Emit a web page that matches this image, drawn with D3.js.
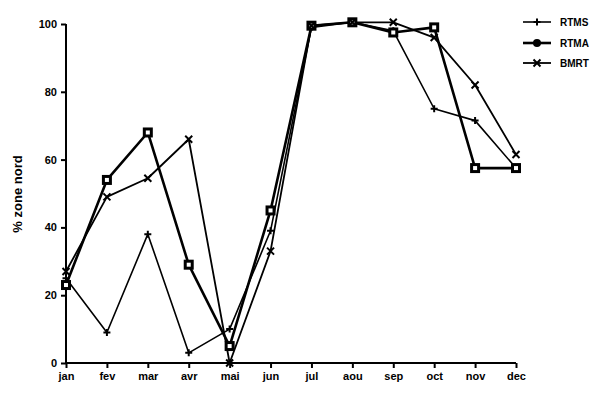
<!DOCTYPE html>
<html><head><meta charset="utf-8">
<script src="https://cdn.jsdelivr.net/npm/d3@7"></script>
<style>body{margin:0;background:#fff}text{font-family:"Liberation Sans",Arial,sans-serif;font-weight:bold;fill:#000}</style>
</head><body><svg id="c" width="600" height="403"></svg>
<script>
const months = ["jan","fev","mar","avr","mai","jun","jul","aou","sep","oct","nov","dec"];
const yTicks = [0,20,40,60,80,100];
const rtms = [25,9,38,3,10,39,99,100.5,98,75,71.5,57.5];
const rtma = [23,54,68,29,5,45,99.5,100.5,97.5,99,57.5,57.5];
const bmrt = [27,49,54.5,66,0,33,99.5,100.5,100.5,96,82,61.5];
const seriesNames = ["RTMS","RTMA","BMRT"];

const svg = d3.select("#c");
const x = d3.scalePoint().domain(months).range([66,516]);
const y = d3.scaleLinear().domain([0,100]).range([363,24]);

const ax = svg.append("g").attr("transform","translate(0,363)")
  .call(d3.axisBottom(x).tickSize(5).tickPadding(4));
const ay = svg.append("g").attr("transform","translate(66,0)")
  .call(d3.axisLeft(y).tickValues(yTicks).tickSize(5).tickPadding(4));
[ax,ay].forEach(a=>{
  a.selectAll("path,line").attr("stroke","#000").attr("stroke-width",2);
  a.selectAll("text").style("font-size","11px").style("font-weight","bold");
});
ax.select(".domain").attr("d","M66,0H516");
ay.select(".domain").attr("d","M0,363V24");

svg.append("text").attr("transform","translate(22,194) rotate(-90)")
  .attr("text-anchor","middle").style("font-size","13px").text("% zone nord");

const line = d3.line().x((d,i)=>x(months[i])).y(d=>y(d));
const data = [rtms, rtma, bmrt];
const widths = [1.6, 2.6, 1.8];
data.forEach((s,k)=>{
  svg.append("path").datum(s).attr("d",line).attr("fill","none")
    .attr("stroke","#000").attr("stroke-width",widths[k]).attr("stroke-linejoin","round");
});

function marker(g,k,cx,cy,legend){
  if(k===0){
    g.append("path").attr("d",`M${cx-3.5},${cy}H${cx+3.5}M${cx},${cy-3.5}V${cy+3.5}`)
      .attr("stroke","#000").attr("stroke-width",2);
  } else if(k===1){
    if(legend){
      g.append("circle").attr("cx",cx).attr("cy",cy).attr("r",4).attr("fill","#000");
    } else {
      g.append("rect").attr("x",cx-3.5).attr("y",cy-3.5).attr("width",7).attr("height",7)
        .attr("fill","#fff").attr("stroke","#000").attr("stroke-width",3);
    }
  } else {
    g.append("path").attr("d",`M${cx-3.5},${cy-3.5}L${cx+3.5},${cy+3.5}M${cx-3.5},${cy+3.5}L${cx+3.5},${cy-3.5}`)
      .attr("stroke","#000").attr("stroke-width",2);
  }
}
const mg = svg.append("g");
data.forEach((s,k)=>s.forEach((v,i)=>marker(mg,k,x(months[i]),y(v),false)));

const leg = svg.append("g");
const ly = [22,43,63];
seriesNames.forEach((n,k)=>{
  leg.append("line").attr("x1",523).attr("x2",551).attr("y1",ly[k]).attr("y2",ly[k])
    .attr("stroke","#000").attr("stroke-width",widths[k]);
  marker(leg,k,537,ly[k],true);
  leg.append("text").attr("x",560).attr("y",ly[k]+4).style("font-size","10px").text(n);
});
</script></body></html>
